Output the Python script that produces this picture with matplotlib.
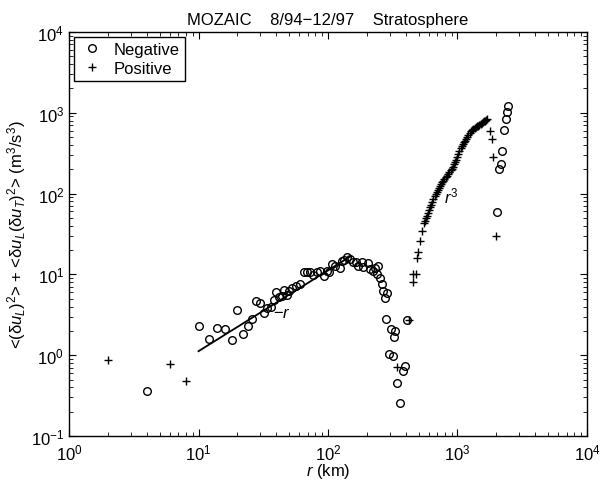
import numpy as np
import matplotlib
matplotlib.use("Agg")
import matplotlib.pyplot as plt

plt.rcParams['font.family'] = ['Liberation Sans', 'DejaVu Sans']
plt.rcParams['mathtext.fontset'] = 'custom'
plt.rcParams['mathtext.rm'] = 'Liberation Sans'
plt.rcParams['mathtext.it'] = 'Liberation Sans:italic'

# negative values (circles), r in km
neg_r = [4, 10, 12, 14, 16, 18, 20, 22, 24, 26, 28, 30, 32, 34, 36, 38, 40, 42, 44, 46, 48, 50,
         53, 57, 61, 65, 69, 73, 77, 82, 87, 93, 98, 101, 107, 113, 124, 128, 133, 141, 148,
         157, 165, 172, 182, 188, 205, 211, 224, 229, 238, 245, 252, 260, 267, 276, 281, 287,
         297, 305, 316, 323, 329, 343, 358, 378, 393, 405,
         2029, 2105, 2168, 2220, 2288, 2370, 2425, 2467]
neg_val = [0.365, 2.27, 1.6, 2.14, 2.08, 1.52, 3.66, 1.84, 2.27, 2.77, 4.64, 4.47, 3.36, 3.84, 3.98,
           4.87, 6.0, 5.26, 5.34, 6.35, 5.5, 6.3,
           6.7, 7.2, 7.6, 10.8, 10.6, 10.8, 9.8, 10.6, 11.1, 9.5, 11.1, 10.6, 13.5, 12.8, 11.9,
           14.8, 15.2, 16.3, 15.6, 14.4, 14.1, 12.8, 14.1, 12.2, 13.8, 11.7, 11.1, 11.9, 10.1,
           12.6, 8.95, 7.6, 6.28, 5.06, 2.81, 5.89, 1.03, 2.11, 0.97, 1.67, 2.01, 0.453, 0.256,
           0.64, 0.74, 2.75,
           58.6, 201, 232, 340, 618, 837, 1014, 1202]

# positive values (pluses)
pos_r = [2, 6, 8, 339, 424, 451, 456, 478, 484, 498, 513, 529,
         551, 560, 570, 578, 590, 600, 613, 625, 638, 651, 665, 678, 691, 705, 718, 733, 748,
         762, 777, 793, 810, 826, 845, 865, 884, 902, 920, 938, 957, 976, 995, 1015, 1035,
         1056, 1077, 1098, 1120, 1142, 1165, 1188, 1211, 1240, 1270, 1300, 1324, 1355, 1385,
         1415, 1448, 1478, 1507, 1537, 1568, 1600, 1630, 1655, 1680,
         1783, 1837, 1890, 1983]
pos_val = [0.87, 0.77, 0.48, 0.71, 2.75, 10.1, 8.0, 10.1, 15.8, 19.1, 25.7, 34.7,
           43, 46, 50, 53, 58, 62, 68, 73, 79, 86, 92, 98, 104, 111, 118, 125, 131,
           139, 145, 152, 160, 167, 176, 187, 195, 202, 215, 230, 244, 262, 285, 309, 335,
           362, 391, 410, 432, 451, 478, 505, 531, 560, 590, 612, 630, 648, 664,
           678, 692, 708, 722, 741, 760, 780, 798, 815, 837,
           601, 474, 286, 30.1]

# fitted -r line
fit_r = np.array([10, 150])
fit_val = 0.112 * fit_r

fig = plt.figure(figsize=(6.07, 4.81), dpi=100)
ax = fig.add_axes([0.1137, 0.0915, 0.8533, 0.84])

ax.plot(neg_r, neg_val, 'o', mfc='none', mec='black', ms=5.5, mew=1.0, label='Negative')
ax.plot(pos_r, pos_val, '+', color='black', ms=6, mew=1.0, label='Positive')
ax.plot(fit_r, fit_val, '-', color='black', lw=1.3)

ax.text(44, 3.4, '\u2212$r$', fontsize=12, ha='center', va='center')
ax.text(900, 94, '$r^3$', fontsize=12, ha='center', va='center')

ax.set_xscale('log')
ax.set_yscale('log')
ax.set_xlim(1, 1e4)
ax.set_ylim(1e-1, 1e4)
ax.tick_params(which='both', direction='in', top=True, right=True, labelsize=12)
ax.tick_params(which='major', length=5)
ax.tick_params(which='minor', length=3)
ax.tick_params(axis='x', which='major', pad=4.5)
for s in ax.spines.values():
    s.set_linewidth(1.0)

ax.set_xlabel('$r$ (km)', fontsize=12, labelpad=-1)
ax.set_ylabel('<(\u03b4$u_L$)$^2$> + <\u03b4$u_L$(\u03b4$u_T$)$^2$> (m$^3$/s$^3$)',
              fontsize=12, labelpad=2)
ax.set_title('MOZAIC    8/94\u221212/97    Stratosphere', fontsize=12, pad=6)

leg = ax.legend(loc='upper left', numpoints=1, fontsize=12, fancybox=False, framealpha=1,
                edgecolor='black', borderaxespad=0.3, handletextpad=0.6, borderpad=0.3,
                labelspacing=0.25, handlelength=1.5)
leg.get_frame().set_linewidth(1.0)

fig.savefig('out.png', dpi=100)
